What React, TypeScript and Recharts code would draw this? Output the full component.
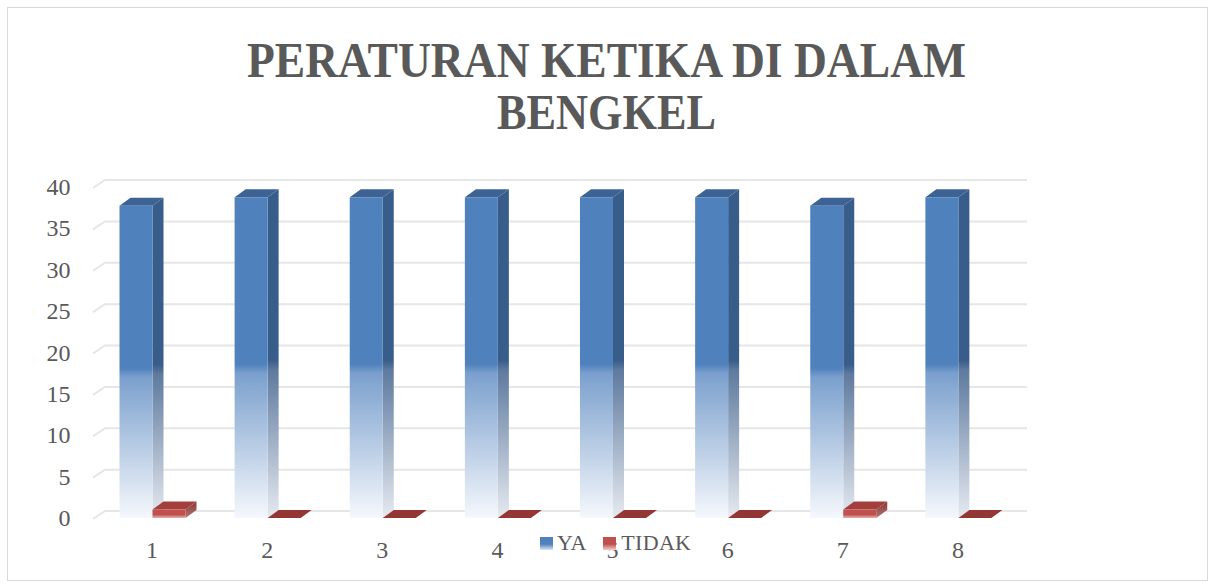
import React from 'react';
import { BarChart, Bar, XAxis, YAxis, CartesianGrid } from 'recharts';

const categories = ['1', '2', '3', '4', '5', '6', '7', '8'];
const yaValues = [37, 38, 38, 38, 38, 38, 37, 38];
const tidakValues = [1, 0, 0, 0, 0, 0, 1, 0];
const yTicks = [0, 5, 10, 15, 20, 25, 30, 35, 40];
const seriesNames = ['YA', 'TIDAK'];
const titleLines = ['PERATURAN KETIKA DI DALAM', 'BENGKEL'];

const data = categories.map((c, i) => ({ name: c, YA: yaValues[i], TIDAK: tidakValues[i] }));

const FONT = '"Liberation Serif", "DejaVu Serif", serif';
const TEXT = '#595959';
const DX = 11;
const DY = 8;

const make3D = (kind: 'blue' | 'red') => (props: any) => {
  const { x, y, width, height } = props;
  if (x == null || y == null) return <g />;
  const base = y + height;
  const fb = base + 7;
  const w = width;
  if (!height || height < 0.5) {
    return (
      <polygon
        points={`${x},${fb} ${x + w},${fb} ${x + w + DX},${fb - DY} ${x + DX},${fb - DY}`}
        fill={kind === 'red' ? '#943634' : '#2F5080'}
      />
    );
  }
  const fh = height * 1.02;
  const fy = fb - fh;
  const front = kind === 'blue' ? 'url(#blueFront)' : 'url(#redFront)';
  const side = kind === 'blue' ? 'url(#blueSide)' : 'url(#redSide)';
  const top = kind === 'blue' ? '#3C6393' : '#A43E3B';
  return (
    <g>
      <polygon
        points={`${x + w},${fy} ${x + w + DX},${fy - DY} ${x + w + DX},${fb - DY} ${x + w},${fb}`}
        fill={side}
      />
      <polygon
        points={`${x},${fy} ${x + DX},${fy - DY} ${x + w + DX},${fy - DY} ${x + w},${fy}`}
        fill={top}
      />
      <rect x={x} y={fy} width={w} height={fh} fill={front} />
    </g>
  );
};

const GridLine = (p: any) => (
  <polyline
    key={p.key}
    points={`${p.x1 - 1.5},${p.y1 + 8} ${p.x1 + 10.5},${p.y1} ${p.x2 + 11.5},${p.y1}`}
    fill="none"
    stroke="#E6E6E6"
    strokeWidth={2}
  />
);

const YTick = (p: any) => (
  <text
    x={p.x - 16}
    y={p.y + 7}
    textAnchor="end"
    dominantBaseline="central"
    fill={TEXT}
    fontFamily={FONT}
    fontSize={24}
  >
    {p.payload.value}
  </text>
);

const XTick = (p: any) => (
  <text
    x={p.x}
    y={p.y + 31}
    textAnchor="middle"
    dominantBaseline="central"
    fill={TEXT}
    fontFamily={FONT}
    fontSize={24}
  >
    {p.payload.value}
  </text>
);

export default function App() {
  return (
    <div style={{ position: 'absolute', left: 0, top: 0, width: 1213, height: 585, background: '#fff' }}>
      <div
        style={{
          position: 'absolute',
          left: 7,
          top: 7,
          width: 1199,
          height: 572,
          border: '1.5px solid #D9D9D9',
        }}
      />
      <svg style={{ position: 'absolute', left: 0, top: 0 }} width={1213} height={140}>
        <text
          x={606.5}
          y={77}
          textAnchor="middle"
          fontFamily={FONT}
          fontWeight="bold"
          fontSize={50}
          fill={TEXT}
          textLength={719}
          lengthAdjust="spacingAndGlyphs"
        >
          {titleLines[0]}
        </text>
        <text
          x={606.5}
          y={129}
          textAnchor="middle"
          fontFamily={FONT}
          fontWeight="bold"
          fontSize={50}
          fill={TEXT}
          textLength={219}
          lengthAdjust="spacingAndGlyphs"
        >
          {titleLines[1]}
        </text>
      </svg>
      <div style={{ position: 'absolute', left: 0, top: 0 }}>
        <BarChart
          width={1213}
          height={585}
          data={data}
          margin={{ top: 180, right: 197.5, left: 34.5, bottom: 44 }}
          barGap={0}
          barSize={33}
        >
          <defs>
            <linearGradient id="blueFront" x1="0" y1="0" x2="0" y2="1">
              <stop offset="0" stopColor="#4F81BD" />
              <stop offset="0.52" stopColor="#4F81BD" />
              <stop offset="0.55" stopColor="#7BA0CE" />
              <stop offset="1" stopColor="#F5F8FC" />
            </linearGradient>
            <linearGradient id="blueSide" x1="0" y1="0" x2="0" y2="1">
              <stop offset="0" stopColor="#385D8A" />
              <stop offset="0.52" stopColor="#385D8A" />
              <stop offset="0.55" stopColor="#5E7A9E" />
              <stop offset="1" stopColor="#E6EAF0" />
            </linearGradient>
            <linearGradient id="redFront" x1="0" y1="0" x2="0" y2="1">
              <stop offset="0" stopColor="#C0504D" />
              <stop offset="0.6" stopColor="#C0504D" />
              <stop offset="1" stopColor="#E8B4B2" />
            </linearGradient>
            <linearGradient id="redSide" x1="0" y1="0" x2="0" y2="1">
              <stop offset="0" stopColor="#8C3836" />
              <stop offset="1" stopColor="#B07574" />
            </linearGradient>
          </defs>
          <CartesianGrid vertical={false} horizontal={GridLine as any} />
          <XAxis dataKey="name" axisLine={false} tickLine={false} height={30} tick={<XTick />} interval={0} />
          <YAxis
            domain={[0, 40]}
            ticks={yTicks}
            axisLine={false}
            tickLine={false}
            width={60}
            tick={<YTick />}
            interval={0}
          />
          <Bar dataKey="YA" name={seriesNames[0]} isAnimationActive={false} shape={make3D('blue')} />
          <Bar dataKey="TIDAK" name={seriesNames[1]} isAnimationActive={false} shape={make3D('red')} />
        </BarChart>
      </div>
      <div
        style={{
          position: 'absolute',
          left: 540,
          top: 531,
          display: 'flex',
          alignItems: 'center',
          fontFamily: FONT,
          fontSize: 22,
          color: TEXT,
          lineHeight: '24px',
        }}
      >
        <span
          style={{
            display: 'inline-block',
            width: 13,
            height: 13,
            background: 'linear-gradient(#4F81BD 0%, #4F81BD 55%, #DCE6F2 100%)',
            marginRight: 4,
          }}
        />
        <span>{seriesNames[0]}</span>
        <span
          style={{
            display: 'inline-block',
            width: 13,
            height: 13,
            background: 'linear-gradient(#C0504D 0%, #C0504D 55%, #F0CFCE 100%)',
            marginLeft: 17,
            marginRight: 5,
          }}
        />
        <span style={{ letterSpacing: 0.3 }}>{seriesNames[1]}</span>
      </div>
    </div>
  );
}
